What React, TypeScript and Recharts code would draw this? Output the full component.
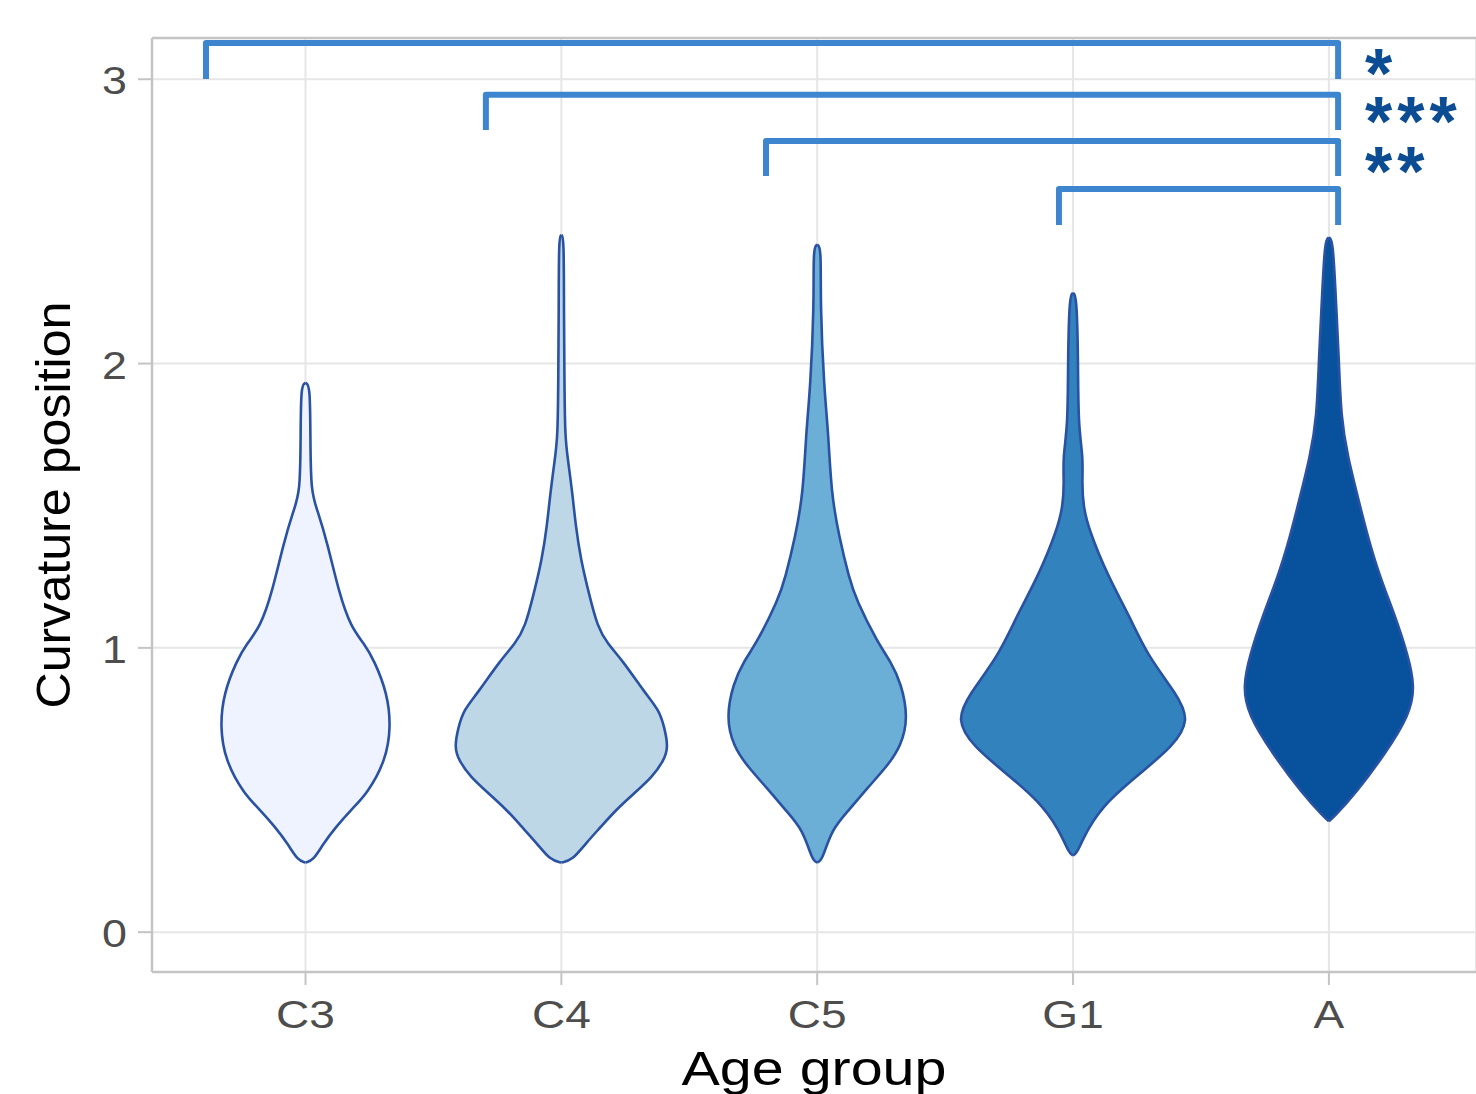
import React from "react";
import {
  ComposedChart,
  Area,
  Line,
  XAxis,
  YAxis,
  CartesianGrid,
  ReferenceLine,
  ReferenceDot,
} from "recharts";

const categories = ["C3", "C4", "C5", "G1", "A"];
const violinFills = ["#EFF3FF", "#BDD7E7", "#6BAED6", "#3182BD", "#08519C"];

// violin outlines: curvature level and half width (in category units)
const c3Y = [0.245, 0.253, 0.312, 0.37, 0.43, 0.488, 0.605, 0.722, 0.84, 0.957, 1.015, 1.074, 1.19, 1.367, 1.484, 1.545, 1.742, 1.925, 1.932];
const c3W = [0, 0.031, 0.07, 0.119, 0.177, 0.242, 0.314, 0.334, 0.32, 0.268, 0.229, 0.177, 0.132, 0.086, 0.047, 0.021, 0.019, 0.018, 0];

const c4Y = [0.245, 0.253, 0.312, 0.37, 0.429, 0.488, 0.546, 0.605, 0.65, 0.72, 0.781, 0.84, 0.957, 1.015, 1.074, 1.19, 1.31, 1.43, 1.545, 1.66, 1.742, 1.95, 2.2, 2.445, 2.452];
const c4W = [0, 0.043, 0.095, 0.154, 0.212, 0.284, 0.356, 0.401, 0.418, 0.403, 0.382, 0.328, 0.238, 0.18, 0.141, 0.108, 0.076, 0.056, 0.043, 0.026, 0.014, 0.012, 0.01, 0.01, 0];

const c5Y = [0.245, 0.253, 0.36, 0.43, 0.506, 0.58, 0.654, 0.756, 0.875, 0.95, 1.02, 1.17, 1.245, 1.39, 1.54, 1.766, 1.91, 2.21, 2.41, 2.418];
const c5W = [0, 0.02, 0.055, 0.125, 0.195, 0.27, 0.328, 0.356, 0.328, 0.289, 0.235, 0.152, 0.125, 0.086, 0.055, 0.043, 0.027, 0.012, 0.016, 0];

const g1Y = [0.27, 0.278, 0.362, 0.461, 0.559, 0.654, 0.746, 0.837, 0.975, 1.115, 1.25, 1.42, 1.5, 1.58, 1.67, 1.78, 2.02, 2.24, 2.248];
const g1W = [0, 0.016, 0.055, 0.133, 0.262, 0.391, 0.457, 0.406, 0.289, 0.219, 0.137, 0.06, 0.04, 0.035, 0.04, 0.02, 0.02, 0.014, 0];

const aY = [0.39, 0.405, 0.49, 0.626, 0.767, 0.865, 0.975, 1.115, 1.25, 1.39, 1.53, 1.67, 1.81, 2.02, 2.227, 2.435, 2.443];
const aW = [0, 0.02, 0.106, 0.219, 0.317, 0.336, 0.309, 0.258, 0.199, 0.152, 0.113, 0.074, 0.047, 0.039, 0.027, 0.016, 0];

// significance brackets
const bracketLeft = [0.611, 1.705, 2.8, 3.945];
const bracketRight = [5.036, 5.036, 5.036, 5.036];
const bracketTop = [3.127, 2.945, 2.783, 2.614];
const bracketBottom = [3.001, 2.821, 2.66, 2.487];
const starLabels = ["*", "***", "**"];
const starY = [3.061, 2.892, 2.716];
const starX = 5.141;

const yTicks = [0, 1, 2, 3];
const xTicks = [1, 2, 3, 4, 5];

const FONT = '"Liberation Sans", Arial, Helvetica, sans-serif';

const violinY = [c3Y, c4Y, c5Y, g1Y, aY];
const violinW = [c3W, c4W, c5W, g1W, aW];
const violinData = violinY.map((ys, i) =>
  ys.map((y, j) => ({ y, range: [i + 1 - violinW[i][j], i + 1 + violinW[i][j]] }))
);

const bracketData = bracketLeft.map((l, i) => [
  { y: bracketBottom[i], x: l },
  { y: bracketTop[i], x: l },
  { y: bracketTop[i], x: bracketRight[i] },
  { y: bracketBottom[i], x: bracketRight[i] },
]);

const YTick = (props: any) => {
  const { x, y, payload } = props;
  return (
    <text
      transform={`translate(${x - 11},${y + 15}) scale(1.15,1)`}
      textAnchor="end"
      fontSize={39}
      fontFamily={FONT}
      fill="#4D4D4D"
    >
      {payload.value}
    </text>
  );
};

const XTick = (props: any) => {
  const { x, y, payload } = props;
  return (
    <text
      transform={`translate(${x},${y + 43}) scale(1.18,1)`}
      textAnchor="middle"
      fontSize={39}
      fontFamily={FONT}
      fill="#4D4D4D"
    >
      {categories[payload.value - 1]}
    </text>
  );
};

const Stars = (text: string) => (props: any) => (
  <text
    x={props.cx}
    y={props.cy + 36}
    fontSize={70}
    fontWeight="bold"
    letterSpacing={5}
    fontFamily={FONT}
    fill="#0B4C93"
  >
    {text}
  </text>
);

export default function App() {
  return (
    <div style={{ position: "absolute", left: 0, top: 0, width: 1476, height: 1094, background: "#fff" }}>
      <ComposedChart
        width={1476}
        height={1094}
        layout="vertical"
        margin={{ top: 38, right: 0, bottom: 0, left: 0 }}
      >
        <CartesianGrid stroke="#E6E6E6" strokeWidth={2} />
        <XAxis
          type="number"
          domain={[0.4, 5.575]}
          ticks={xTicks}
          allowDataOverflow
          height={122}
          tickSize={13}
          tickMargin={0}
          tickLine={{ stroke: "#C4C4C4", strokeWidth: 2 }}
          axisLine={{ stroke: "#C4C4C4", strokeWidth: 2.5 }}
          tick={<XTick />}
          label={{
            content: (p: any) => (
              <text
                x={p.viewBox.x + p.viewBox.width / 2}
                y={1085}
                textAnchor="middle"
                fontSize={49}
                fontFamily={FONT}
                fill="#000"
                textLength={265}
                lengthAdjust="spacingAndGlyphs"
              >
                Age group
              </text>
            ),
          }}
        />
        <YAxis
          type="number"
          dataKey="y"
          domain={[-0.14, 3.145]}
          ticks={yTicks}
          reversed
          allowDataOverflow
          width={152}
          tickSize={14}
          tickMargin={0}
          tickLine={{ stroke: "#C4C4C4", strokeWidth: 2 }}
          axisLine={{ stroke: "#C4C4C4", strokeWidth: 2.5 }}
          tick={<YTick />}
          label={{
            content: (p: any) => {
              const cy = p.viewBox.y + p.viewBox.height / 2;
              return (
                <text
                  x={70}
                  y={cy}
                  transform={`rotate(-90, 70, ${cy})`}
                  textAnchor="middle"
                  fontSize={48}
                  fontFamily={FONT}
                  fill="#000"
                  textLength={407}
                  lengthAdjust="spacingAndGlyphs"
                >
                  Curvature position
                </text>
              );
            },
          }}
        />
        <ReferenceLine y={3.145} stroke="#C4C4C4" strokeWidth={2.5} ifOverflow="visible" />
        {violinData.map((d, i) => (
          <Area
            key={categories[i]}
            data={d}
            dataKey="range"
            type="basis"
            fill={violinFills[i]}
            fillOpacity={1}
            stroke="#2A52A2"
            strokeWidth={2.6}
            dot={false}
            activeDot={false}
            isAnimationActive={false}
          />
        ))}
        {bracketData.map((d, i) => (
          <Line
            key={"b" + i}
            data={d}
            dataKey="x"
            type="linear"
            stroke="#3D86CF"
            strokeWidth={6}
            strokeLinejoin="round"
            dot={false}
            activeDot={false}
            isAnimationActive={false}
          />
        ))}
        {starLabels.map((s, i) => (
          <ReferenceDot key={"s" + i} x={starX} y={starY[i]} r={0} shape={Stars(s)} ifOverflow="visible" />
        ))}
      </ComposedChart>
    </div>
  );
}
